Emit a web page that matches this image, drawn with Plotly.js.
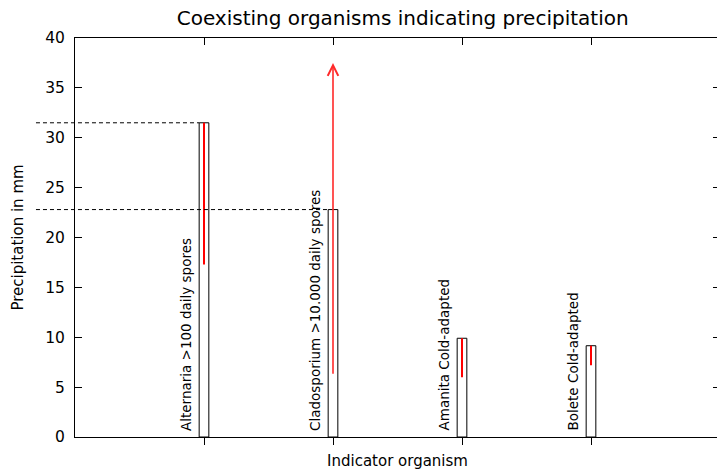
<!DOCTYPE html>
<html>
<head>
<meta charset="utf-8">
<script src="https://cdn.plot.ly/plotly-3.0.1.min.js"></script>
<style>
  html, body { margin: 0; padding: 0; overflow: hidden; background: #fff; }
  #chart { width: 720px; height: 470px; }
</style>
</head>
<body>
<div id="chart"></div>
<script>
// ---- data ----
var categories = ['Alternaria >100 daily spores', 'Cladosporium >10.000 daily spores', 'Amanita Cold-adapted', 'Bolete Cold-adapted'];
var positions = [1, 2, 3, 4];
var precipitation = [31.5, 22.8, 9.9, 9.15];
var rangeLow = [17.3, 6.2, 6.0, 7.2];
var rangeHigh = [31.5, 37.5, 9.9, 9.15];
var openEnded = [false, true, false, false];
var guideLineIdx = [0, 1];
var yTicks = [0, 5, 10, 15, 20, 25, 30, 35, 40];

// ---- style ----
var FONT = 'DejaVu Sans';
var barWidth = 0.075;
var xRange = [0, 5];
var yRange = [0, 40];

var traces = [];
traces.push({
  type: 'bar', x: positions, y: precipitation, width: barWidth,
  marker: { color: '#ffffff', line: { color: '#000000', width: 1 } },
  hoverinfo: 'skip', showlegend: false
});

var rx = [], ry = [];
for (var i = 0; i < positions.length; i++) {
  if (openEnded[i]) continue;
  rx.push(positions[i], positions[i], null);
  ry.push(rangeLow[i], rangeHigh[i], null);
}
traces.push({
  type: 'scatter', mode: 'lines', x: rx, y: ry,
  line: { color: '#ff0000', width: 2 }, hoverinfo: 'skip', showlegend: false
});
// dummy trace for top mirror axis
traces.push({
  type: 'scatter', mode: 'markers', x: positions, y: precipitation, xaxis: 'x2',
  marker: { opacity: 0 }, hoverinfo: 'skip', showlegend: false
});

var annotations = [];
for (var j = 0; j < categories.length; j++) {
  annotations.push({
    text: categories[j], x: positions[j], y: 0, xref: 'x', yref: 'y',
    textangle: -90, xanchor: 'center', yanchor: 'bottom', xshift: -18.5, yshift: 4,
    showarrow: false, font: { family: FONT, size: 13.5, color: '#000' }
  });
  if (openEnded[j]) {
    annotations.push({
      text: '', x: positions[j], y: rangeHigh[j], ax: positions[j], ay: rangeLow[j],
      xref: 'x', yref: 'y', axref: 'x', ayref: 'y', showarrow: true,
      arrowhead: 5, arrowsize: 1.3, arrowwidth: 1.6, arrowcolor: '#ff2a2a', standoff: 0
    });
  }
}

var shapes = guideLineIdx.map(function (k) {
  var xEnd = (positions[k] - barWidth / 2 - xRange[0]) / (xRange[1] - xRange[0]);
  return {
    type: 'line', xref: 'paper', yref: 'y', x0: -0.0605, x1: xEnd,
    y0: precipitation[k], y1: precipitation[k],
    line: { color: '#000000', width: 1, dash: '4px,3px' }, layer: 'above'
  };
});

var layout = {
  width: 720, height: 470,
  margin: { l: 75, r: 0, t: 38, b: 33 },
  paper_bgcolor: '#ffffff', plot_bgcolor: '#ffffff',
  font: { family: FONT, size: 15, color: '#000' },
  title: {
    text: 'Coexisting organisms indicating precipitation',
    font: { family: FONT, size: 20, color: '#000' },
    xref: 'paper', x: 0.508, xanchor: 'center', yref: 'container', y: 1 - 18 / 470, yanchor: 'middle'
  },
  xaxis: {
    range: xRange, tickvals: positions, showticklabels: false,
    ticks: 'outside', ticklen: 7, tickwidth: 1, tickcolor: '#000',
    showline: true, linecolor: '#000', linewidth: 1, showgrid: false, zeroline: false,
    title: { text: 'Indicator organism', font: { family: FONT, size: 15, color: '#000' }, standoff: 12 }
  },
  xaxis2: {
    range: xRange, overlaying: 'x', side: 'top', anchor: 'y', matches: 'x',
    tickvals: positions, showticklabels: false,
    ticks: 'inside', ticklen: 7, tickwidth: 1, tickcolor: '#000',
    showline: true, linecolor: '#000', linewidth: 1, showgrid: false, zeroline: false
  },
  yaxis: {
    range: yRange, tickvals: yTicks, ticks: 'inside', ticklen: 7, tickwidth: 1, tickcolor: '#000',
    mirror: 'ticks', showline: true, linecolor: '#000', linewidth: 1, showgrid: false, zeroline: false,
    tickfont: { family: FONT, size: 15.5, color: '#000' }, ticklabelstandoff: 6,
    title: { text: 'Precipitation in mm', font: { family: FONT, size: 15, color: '#000' }, standoff: 17 }
  },
  bargap: 0,
  showlegend: false,
  annotations: annotations,
  shapes: shapes
};

Plotly.newPlot('chart', traces, layout, { staticPlot: true, displayModeBar: false });
</script>
</body>
</html>
